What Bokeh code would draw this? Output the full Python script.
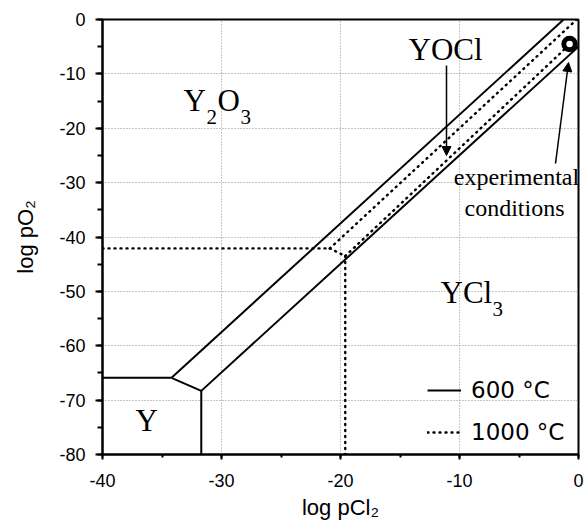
from bokeh.plotting import figure
from bokeh.models import (Range1d, SingleIntervalTicker, Label, Arrow, NormalHead,
                          Legend, LegendItem)
from bokeh.embed import file_html
from bokeh.resources import INLINE

# ---- data: Y-O-Cl predominance diagram (log pCl2 vs log pO2) ----
# 600 °C phase boundaries
b600_x_Y_Y2O3 = [-40.0, -34.2]
b600_y_Y_Y2O3 = [-65.9, -65.9]
b600_x_Y_YOCl = [-34.2, -31.7]
b600_y_Y_YOCl = [-65.9, -68.3]
b600_x_Y_YCl3 = [-31.7, -31.7]
b600_y_Y_YCl3 = [-68.3, -80.0]
b600_x_Y2O3_YOCl = [-34.2, -1.25]
b600_y_Y2O3_YOCl = [-65.9, 0.0]
b600_x_YOCl_YCl3 = [-31.7, 0.0]
b600_y_YOCl_YCl3 = [-68.3, -5.0]

# 1000 °C phase boundaries
b1000_x_Y_Y2O3 = [-40.0, -20.9]
b1000_y_Y_Y2O3 = [-42.1, -42.1]
b1000_x_Y_YOCl = [-20.9, -19.6]
b1000_y_Y_YOCl = [-42.1, -43.5]
b1000_x_Y_YCl3 = [-19.6, -19.6]
b1000_y_Y_YCl3 = [-43.5, -80.0]
b1000_x_Y2O3_YOCl = [-20.9, -0.15]
b1000_y_Y2O3_YOCl = [-42.1, 0.0]
b1000_x_YOCl_YCl3 = [-19.6, -0.7]
b1000_y_YOCl_YCl3 = [-43.5, -4.5]

# experimental conditions
exp_x = [-0.75]
exp_y = [-4.5]

# axes
X0, X1 = -40, 0
Y0, Y1 = -80, 0
tick_step = 10
x_ticks = [-40, -30, -20, -10, 0]
y_ticks = [-80, -70, -60, -50, -40, -30, -20, -10, 0]

# ---- layout ----
FRAME_L, FRAME_T, FRAME_W, FRAME_H = 102, 19, 476, 435


def px_x(px):
    return X0 + (px - FRAME_L) / FRAME_W * (X1 - X0)


def px_y(py):
    return Y1 - (py - FRAME_T) / FRAME_H * (Y1 - Y0)


p = figure(output_backend="svg", toolbar_location=None,
           frame_width=FRAME_W, frame_height=FRAME_H,
           x_range=Range1d(X0, X1), y_range=Range1d(Y0, Y1),
           min_border_left=FRAME_L, min_border_top=FRAME_T,
           min_border_right=6, min_border_bottom=72,
           background_fill_color="white", border_fill_color="white",
           x_axis_label="log pCl₂", y_axis_label="log pO₂")

p.outline_line_color = "black"
p.outline_line_width = 2

for ax, ticks in ((p.xaxis[0], x_ticks), (p.yaxis[0], y_ticks)):
    ax.ticker = SingleIntervalTicker(interval=tick_step, num_minor_ticks=2)
    ax.major_label_overrides = {t: str(t) for t in ticks}
    ax.axis_line_width = 2
    ax.axis_line_color = "black"
    ax.major_tick_line_width = 2
    ax.minor_tick_line_width = 2
    ax.major_tick_line_color = "black"
    ax.minor_tick_line_color = "black"
    ax.major_tick_in = 0
    ax.minor_tick_in = 0
    ax.major_label_text_font = "Liberation Sans"
    ax.major_label_text_font_size = "18px"
    ax.major_label_text_color = "black"
    ax.axis_label_text_font = "Liberation Sans"
    ax.axis_label_text_font_size = "22px"
    ax.axis_label_text_font_style = "normal"
    ax.axis_label_text_color = "black"

p.xaxis.major_tick_out = 5
p.xaxis.minor_tick_out = 3
p.xaxis.major_label_standoff = 14
p.xaxis.axis_label_standoff = 5
p.yaxis.major_tick_out = 7
p.yaxis.minor_tick_out = 5
p.yaxis.major_label_standoff = 10
p.yaxis.axis_label_standoff = 18

p.grid.grid_line_color = "#8c8c8c"
p.grid.grid_line_dash = "1 2"
p.grid.grid_line_width = 1

# phase boundary lines
r600 = p.multi_line(
    xs=[b600_x_Y_Y2O3, b600_x_Y_YOCl, b600_x_Y_YCl3, b600_x_Y2O3_YOCl, b600_x_YOCl_YCl3],
    ys=[b600_y_Y_Y2O3, b600_y_Y_YOCl, b600_y_Y_YCl3, b600_y_Y2O3_YOCl, b600_y_YOCl_YCl3],
    line_color="black", line_width=2)
r1000 = p.multi_line(
    xs=[b1000_x_Y_Y2O3, b1000_x_Y_YOCl, b1000_x_Y_YCl3, b1000_x_Y2O3_YOCl, b1000_x_YOCl_YCl3],
    ys=[b1000_y_Y_Y2O3, b1000_y_Y_YOCl, b1000_y_Y_YCl3, b1000_y_Y2O3_YOCl, b1000_y_YOCl_YCl3],
    line_color="black", line_width=2.4, line_dash="1 5", line_cap="round")

p.scatter(exp_x, exp_y, marker="circle", size=11.5, fill_color="white",
          line_color="black", line_width=5)

legend = Legend(items=[LegendItem(label="600 °C", renderers=[r600]),
                       LegendItem(label="1000 °C", renderers=[r1000])],
                location=(325, 7), padding=0, margin=0, spacing=12,
                glyph_width=34, glyph_height=30, label_height=30, label_standoff=10,
                label_text_font="DejaVu Sans", label_text_font_size="23px",
                label_text_color="black",
                border_line_color=None, background_fill_alpha=0)
p.add_layout(legend)


def text(px, py, s, size, font="Liberation Serif", align="left"):
    # py is the intended baseline; the label anchor sits a bit above it
    p.add_layout(Label(x=px_x(px), y=px_y(py - 0.37 * size), text=s, text_font=font,
                       text_font_size=f"{size}px", text_color="black",
                       text_align=align, text_baseline="alphabetic"))


# phase field names
text(183, 111, "Y", 31)
text(206, 124, "2", 21)
text(217, 111, "O", 31)
text(240, 124, "3", 21)

text(440, 303, "YCl", 31)
text(492, 316, "3", 21)

text(408, 60, "YOCl", 31)
text(135, 431, "Y", 31)

text(516, 185, "experimental", 24, align="center")
text(514, 216, "conditions", 24, align="center")

# pointer arrows
for (x0, y0, x1, y1) in [(446, 65, 446, 155), (555, 163, 568, 62)]:
    p.add_layout(Arrow(x_start=px_x(x0), y_start=px_y(y0), x_end=px_x(x1), y_end=px_y(y1),
                       line_color="black", line_width=1.5,
                       end=NormalHead(size=9, fill_color="black", line_color="black")))

open("out.html", "w").write(file_html(p, INLINE))
